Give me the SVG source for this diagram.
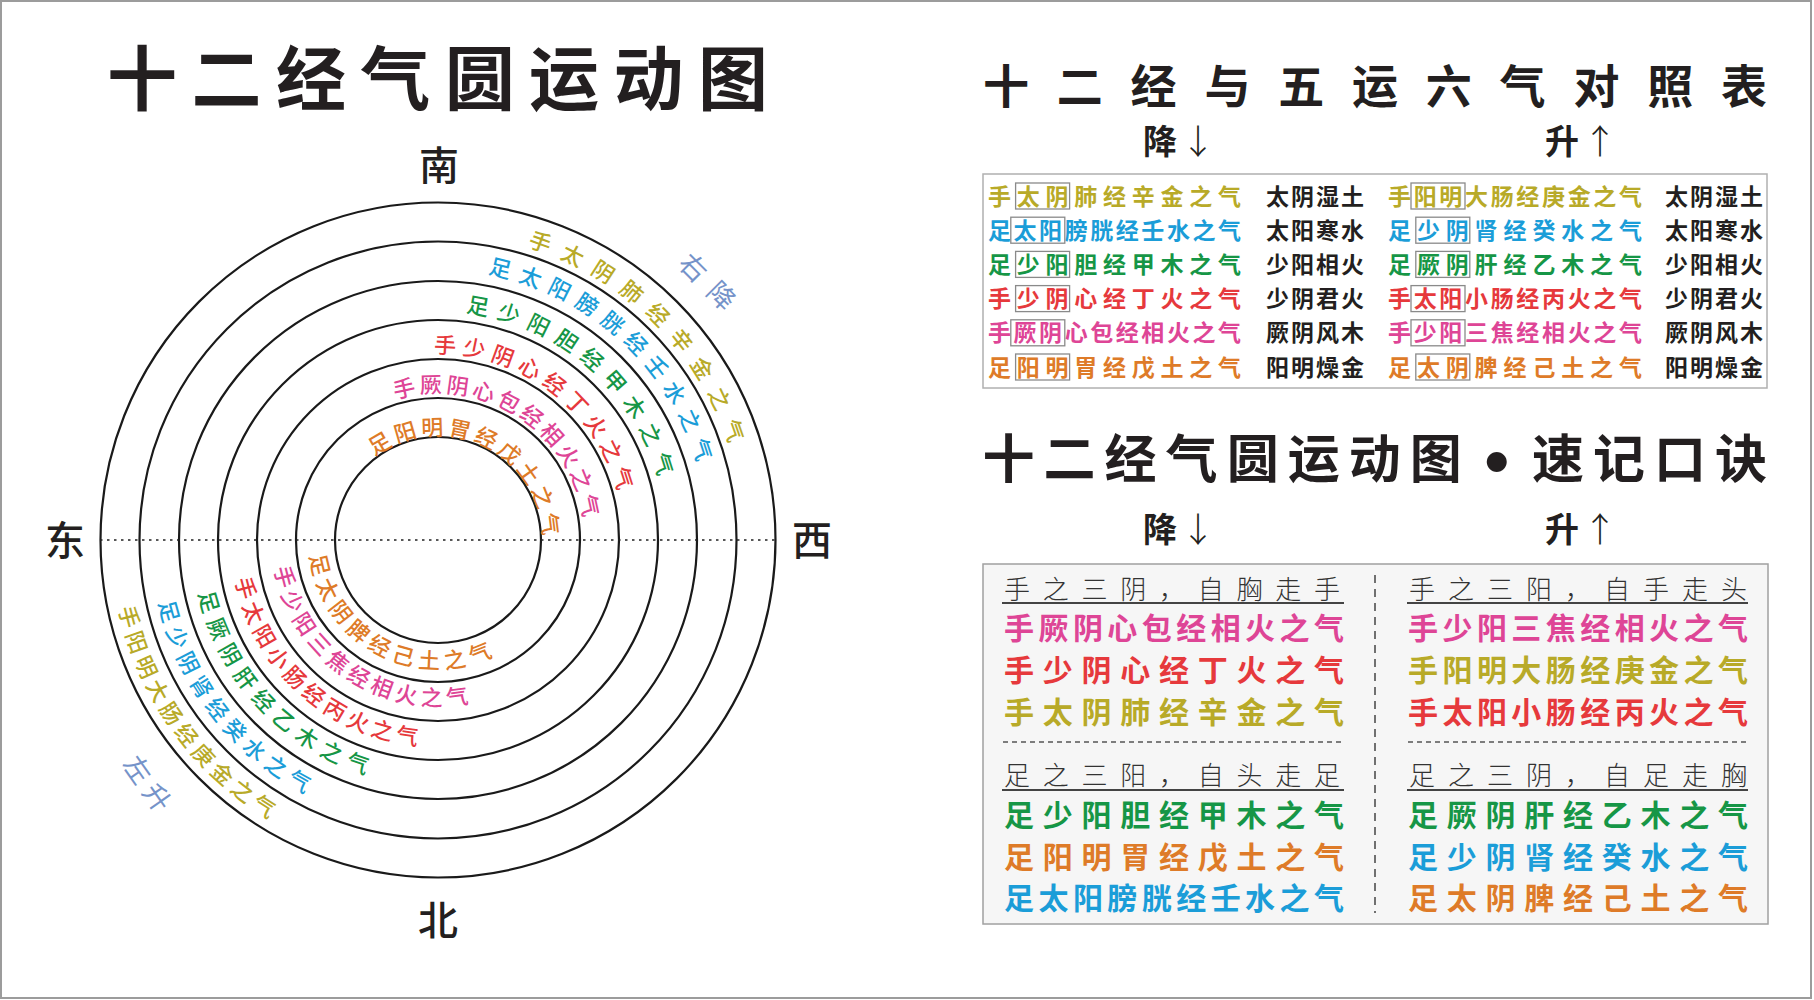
<svg xmlns="http://www.w3.org/2000/svg" width="1814" height="1000" viewBox="0 0 1814 1000">
<style>
text{font-family:"Noto Sans CJK SC","Noto Sans CJK JP",sans-serif}
.h{font-weight:700;fill:#231f20}
.cmp{font-size:40px;font-weight:500;fill:#231f20;text-anchor:middle}
.ring{font-size:22px;font-weight:500}
.ol{fill:#b8aa28}.bl{fill:#1b9dd8}.gr{fill:#169646}.rd{fill:#e6393c}.mg{fill:#de4596}.or{fill:#de7b28}
.circ{fill:none;stroke:#1a1a1a;stroke-width:2.2}
.side{font-size:27px;fill:#7593c9;text-anchor:middle}
.tb{font-size:23px;font-weight:700;text-anchor:middle}
.tk{font-size:23px;font-weight:700;fill:#231f20;letter-spacing:2px}
.bx{fill:none;stroke:#8a8a8a;stroke-width:1.3}
.mn{font-size:30px;font-weight:700;text-anchor:middle}
.hd{font-size:26px;font-weight:300;fill:#333;text-anchor:middle}
.ul{stroke:#444;stroke-width:2}
.dash{stroke:#555;stroke-width:1.3;stroke-dasharray:5 4}
.ttl{text-anchor:middle}
</style>
<defs>
<path id="t1" d="M131.4 540A306.6 306.6 0 1 1 744.6 540A306.6 306.6 0 1 1 131.4 540"/>
<path id="t2" d="M167.4 540A270.6 270.6 0 1 1 708.6 540A270.6 270.6 0 1 1 167.4 540"/>
<path id="t3" d="M208.9 540A229.1 229.1 0 1 1 667.1 540A229.1 229.1 0 1 1 208.9 540"/>
<path id="t4" d="M251.4 540A186.6 186.6 0 1 1 624.6 540A186.6 186.6 0 1 1 251.4 540"/>
<path id="t5" d="M290.9 540A147.1 147.1 0 1 1 585.1 540A147.1 147.1 0 1 1 290.9 540"/>
<path id="t6" d="M333.4 540A104.6 104.6 0 1 1 542.6 540A104.6 104.6 0 1 1 333.4 540"/>
<path id="b1" d="M111.6 540A326.4 326.4 0 1 0 764.4 540A326.4 326.4 0 1 0 111.6 540"/>
<path id="b2" d="M151.6 540A286.4 286.4 0 1 0 724.4 540A286.4 286.4 0 1 0 151.6 540"/>
<path id="b3" d="M192.6 540A245.4 245.4 0 1 0 683.4 540A245.4 245.4 0 1 0 192.6 540"/>
<path id="b4" d="M231.6 540A206.4 206.4 0 1 0 644.4 540A206.4 206.4 0 1 0 231.6 540"/>
<path id="b5" d="M272.1 540A165.9 165.9 0 1 0 603.9 540A165.9 165.9 0 1 0 272.1 540"/>
<path id="b6" d="M309.1 540A128.9 128.9 0 1 0 566.9 540A128.9 128.9 0 1 0 309.1 540"/>
</defs>
<rect x="0" y="0" width="1814" height="1000" fill="#fff"/>
<rect x="1" y="1" width="1810" height="997" fill="none" stroke="#9c9c9c" stroke-width="2"/>

<g id="title-main">
<text class="h ttl" font-size="70" y="105" x="142 226.4 310.9 395.3 479.7 564.1 648.6 733">十二经气圆运动图</text>
</g>

<g id="circles">
<circle class="circ" cx="438" cy="540" r="337.5"/>
<circle class="circ" cx="438" cy="540" r="298.5"/>
<circle class="circ" cx="438" cy="540" r="259"/>
<circle class="circ" cx="438" cy="540" r="220"/>
<circle class="circ" cx="438" cy="540" r="181"/>
<circle class="circ" cx="438" cy="540" r="142"/>
<circle class="circ" cx="438" cy="540" r="103"/>
<line x1="100" y1="540" x2="776" y2="540" stroke="#222" stroke-width="1.6" stroke-dasharray="2.5 4.5"/>
</g>

<g id="compass">
<text class="cmp" x="439" y="180">南</text>
<text class="cmp" x="65" y="555">东</text>
<text class="cmp" x="812" y="555">西</text>
<text class="cmp" x="438" y="935">北</text>
</g>

<g id="ring-top">
<text class="ring ol" letter-spacing="11.87"><textPath href="#t1" startOffset="572">手太阴肺经辛金之气</textPath></text>
<text class="ring bl" letter-spacing="8.44"><textPath href="#t2" startOffset="475">足太阳膀胱经壬水之气</textPath></text>
<text class="ring gr" letter-spacing="8.74"><textPath href="#t3" startOffset="387.7">足少阳胆经甲木之气</textPath></text>
<text class="ring rd" letter-spacing="6.21"><textPath href="#t4" startOffset="288.9">手少阴心经丁火之气</textPath></text>
<text class="ring mg" letter-spacing="3.59"><textPath href="#t5" startOffset="187.5">手厥阴心包经相火之气</textPath></text>
<text class="ring or" letter-spacing="3.72"><textPath href="#t6" startOffset="96.2">足阳明胃经戊土之气</textPath></text>
</g>

<g id="ring-bottom">
<text class="ring ol" letter-spacing="5.09"><textPath href="#b1" startOffset="68.8">手阳明大肠经庚金之气</textPath></text>
<text class="ring bl" letter-spacing="6.24"><textPath href="#b2" startOffset="63.5">足少阴肾经癸水之气</textPath></text>
<text class="ring gr" letter-spacing="7.5"><textPath href="#b3" startOffset="53.7">足厥阴肝经乙木之气</textPath></text>
<text class="ring rd" letter-spacing="4.82"><textPath href="#b4" startOffset="39.8">手太阳小肠经丙火之气</textPath></text>
<text class="ring mg" letter-spacing="4.8"><textPath href="#b5" startOffset="28.4">手少阳三焦经相火之气</textPath></text>
<text class="ring or" letter-spacing="5.67"><textPath href="#b6" startOffset="16">足太阴脾经己土之气</textPath></text>
</g>

<g id="side-labels">
<text class="side" transform="translate(707.5 281.5) rotate(45)" x="-20 20" y="10">右降</text>
<text class="side" transform="translate(147.5 783.5) rotate(55)" x="-17 17" y="10">左升</text>
</g>

<g id="heading-table">
<text class="h ttl" font-size="46" y="102.5" x="1006 1079.8 1153.6 1227.4 1301.2 1375 1448.8 1522.6 1596.4 1670.2 1744">十二经与五运六气对照表</text>
<text class="h" font-size="34" y="154"><tspan x="1143">降</tspan><tspan x="1181" font-weight="300">↓</tspan></text>
<text class="h" font-size="34" y="154"><tspan x="1545">升</tspan><tspan x="1583" font-weight="300">↑</tspan></text>
</g>

<g id="table">
<rect x="983" y="174" width="784" height="214" fill="#fff" stroke="#b0b0b0" stroke-width="1.5"/>
<g id="table-col1">
<text class="tb ol" y="204.5" x="999.5 1028.3 1057 1085.8 1114.5 1143.3 1172 1200.8 1229.5">手太阴肺经辛金之气</text>
<text class="tb bl" y="238.7" x="999.5 1025.1 1050.6 1076.2 1101.7 1127.3 1152.8 1178.4 1203.9 1229.5">足太阳膀胱经壬水之气</text>
<text class="tb gr" y="272.9" x="999.5 1028.3 1057 1085.8 1114.5 1143.3 1172 1200.8 1229.5">足少阳胆经甲木之气</text>
<text class="tb rd" y="307.1" x="999.5 1028.3 1057 1085.8 1114.5 1143.3 1172 1200.8 1229.5">手少阴心经丁火之气</text>
<text class="tb mg" y="341.3" x="999.5 1025.1 1050.6 1076.2 1101.7 1127.3 1152.8 1178.4 1203.9 1229.5">手厥阴心包经相火之气</text>
<text class="tb or" y="375.5" x="999.5 1028.3 1057 1085.8 1114.5 1143.3 1172 1200.8 1229.5">足阳明胃经戊土之气</text>
<rect class="bx" x="1015.6" y="183" width="54" height="26"/>
<rect class="bx" x="1010.8" y="217.2" width="54" height="26"/>
<rect class="bx" x="1015.6" y="251.4" width="54" height="26"/>
<rect class="bx" x="1015.6" y="285.6" width="54" height="26"/>
<rect class="bx" x="1010.8" y="319.8" width="54" height="26"/>
<rect class="bx" x="1015.6" y="354" width="54" height="26"/>
</g>
<g id="table-col2">
<text class="tk" x="1266" y="204.5">太阴湿土</text>
<text class="tk" x="1266" y="238.7">太阳寒水</text>
<text class="tk" x="1266" y="272.9">少阳相火</text>
<text class="tk" x="1266" y="307.1">少阴君火</text>
<text class="tk" x="1266" y="341.3">厥阴风木</text>
<text class="tk" x="1266" y="375.5">阳明燥金</text>
</g>
<g id="table-col3">
<text class="tb ol" y="204.5" x="1399.5 1425.2 1450.8 1476.5 1502.2 1527.8 1553.5 1579.2 1604.8 1630.5">手阳明大肠经庚金之气</text>
<text class="tb bl" y="238.7" x="1399.5 1428.4 1457.3 1486.1 1515 1543.9 1572.8 1601.6 1630.5">足少阴肾经癸水之气</text>
<text class="tb gr" y="272.9" x="1399.5 1428.4 1457.3 1486.1 1515 1543.9 1572.8 1601.6 1630.5">足厥阴肝经乙木之气</text>
<text class="tb rd" y="307.1" x="1399.5 1425.2 1450.8 1476.5 1502.2 1527.8 1553.5 1579.2 1604.8 1630.5">手太阳小肠经丙火之气</text>
<text class="tb mg" y="341.3" x="1399.5 1425.2 1450.8 1476.5 1502.2 1527.8 1553.5 1579.2 1604.8 1630.5">手少阳三焦经相火之气</text>
<text class="tb or" y="375.5" x="1399.5 1428.4 1457.3 1486.1 1515 1543.9 1572.8 1601.6 1630.5">足太阴脾经己土之气</text>
<rect class="bx" x="1411" y="183" width="54" height="26"/>
<rect class="bx" x="1415.8" y="217.2" width="54" height="26"/>
<rect class="bx" x="1415.8" y="251.4" width="54" height="26"/>
<rect class="bx" x="1411" y="285.6" width="54" height="26"/>
<rect class="bx" x="1411" y="319.8" width="54" height="26"/>
<rect class="bx" x="1415.8" y="354" width="54" height="26"/>
</g>
<g id="table-col4">
<text class="tk" x="1665" y="204.5">太阴湿土</text>
<text class="tk" x="1665" y="238.7">太阳寒水</text>
<text class="tk" x="1665" y="272.9">少阳相火</text>
<text class="tk" x="1665" y="307.1">少阴君火</text>
<text class="tk" x="1665" y="341.3">厥阴风木</text>
<text class="tk" x="1665" y="375.5">阳明燥金</text>
</g>
</g>

<g id="heading-mnemonic">
<text class="h ttl" font-size="52" y="478" x="1008.5 1069.5 1130.6 1191.6 1252.7 1313.7 1374.7 1435.8">十二经气圆运动图</text>
<text class="h ttl" font-size="78" y="492" x="1496.8">·</text>
<text class="h ttl" font-size="52" y="478" x="1557.9 1618.9 1679.9 1741">速记口诀</text>
<text class="h" font-size="34" y="542"><tspan x="1143">降</tspan><tspan x="1181" font-weight="300">↓</tspan></text>
<text class="h" font-size="34" y="542"><tspan x="1545">升</tspan><tspan x="1583" font-weight="300">↑</tspan></text>
</g>

<g id="mnemonic">
<rect x="983" y="564" width="785" height="360" fill="#f6f6f6" stroke="#a0a0a0" stroke-width="1.5"/>
<line x1="1375" y1="575" x2="1375" y2="913" stroke="#444" stroke-width="1.5" stroke-dasharray="8 6"/>
<line class="dash" x1="1003" y1="742" x2="1343" y2="742"/>
<line class="dash" x1="1408" y1="742" x2="1748" y2="742"/>
<g id="mn-left">
<text class="hd" y="599" x="1017 1055.8 1094.5 1133.3 1172 1210.8 1249.5 1288.3 1327">手之三阴，自胸走手</text>
<line class="ul" x1="1002" y1="603" x2="1344" y2="603"/>
<text class="mn mg" y="639.4" x="1019 1053.4 1087.9 1122.3 1156.8 1191.2 1225.7 1260.1 1294.6 1329">手厥阴心包经相火之气</text>
<text class="mn rd" y="681.4" x="1019 1057.8 1096.5 1135.3 1174 1212.8 1251.5 1290.3 1329">手少阴心经丁火之气</text>
<text class="mn ol" y="723.4" x="1019 1057.8 1096.5 1135.3 1174 1212.8 1251.5 1290.3 1329">手太阴肺经辛金之气</text>
<text class="hd" y="785" x="1017 1055.8 1094.5 1133.3 1172 1210.8 1249.5 1288.3 1327">足之三阳，自头走足</text>
<line class="ul" x1="1002" y1="790" x2="1344" y2="790"/>
<text class="mn gr" y="826.4" x="1019 1057.8 1096.5 1135.3 1174 1212.8 1251.5 1290.3 1329">足少阳胆经甲木之气</text>
<text class="mn or" y="868.4" x="1019 1057.8 1096.5 1135.3 1174 1212.8 1251.5 1290.3 1329">足阳明胃经戊土之气</text>
<text class="mn bl" y="909.4" x="1019 1053.4 1087.9 1122.3 1156.8 1191.2 1225.7 1260.1 1294.6 1329">足太阳膀胱经壬水之气</text>
</g>
<g id="mn-right">
<text class="hd" y="599" x="1422 1461 1500 1539 1578 1617 1656 1695 1734">手之三阳，自手走头</text>
<line class="ul" x1="1407" y1="603" x2="1748" y2="603"/>
<text class="mn mg" y="639.4" x="1423 1457.4 1491.9 1526.3 1560.8 1595.2 1629.7 1664.1 1698.6 1733">手少阳三焦经相火之气</text>
<text class="mn ol" y="681.4" x="1423 1457.4 1491.9 1526.3 1560.8 1595.2 1629.7 1664.1 1698.6 1733">手阳明大肠经庚金之气</text>
<text class="mn rd" y="723.4" x="1423 1457.4 1491.9 1526.3 1560.8 1595.2 1629.7 1664.1 1698.6 1733">手太阳小肠经丙火之气</text>
<text class="hd" y="785" x="1422 1461 1500 1539 1578 1617 1656 1695 1734">足之三阴，自足走胸</text>
<line class="ul" x1="1407" y1="790" x2="1748" y2="790"/>
<text class="mn gr" y="826.4" x="1423 1461.8 1500.5 1539.3 1578 1616.8 1655.5 1694.3 1733">足厥阴肝经乙木之气</text>
<text class="mn bl" y="868.4" x="1423 1461.8 1500.5 1539.3 1578 1616.8 1655.5 1694.3 1733">足少阴肾经癸水之气</text>
<text class="mn or" y="909.4" x="1423 1461.8 1500.5 1539.3 1578 1616.8 1655.5 1694.3 1733">足太阴脾经己土之气</text>
</g>
</g>
</svg>
